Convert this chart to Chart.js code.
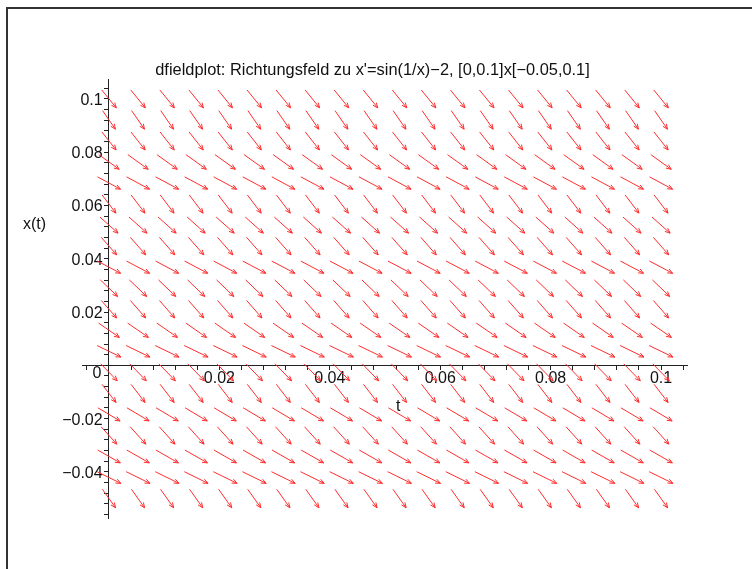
<!DOCTYPE html>
<html>
<head>
<meta charset="utf-8">
<script src="https://cdn.jsdelivr.net/npm/chart.js@4.4.1/dist/chart.umd.min.js"></script>
<style>
  html, body { margin: 0; padding: 0; background: #fff; overflow: hidden; }
  #wrap { position: relative; width: 752px; height: 569px; }
  #c { position: absolute; left: 0; top: 0; }
  #frame { position: absolute; left: 6px; top: 7px; width: 800px; height: 620px;
           border-top: 2px solid #333; border-left: 2px solid #333; pointer-events: none; }
</style>
</head>
<body>
<div id="wrap">
  <canvas id="c" width="752" height="569"></canvas>
  <div id="frame"></div>
</div>
<script>
// ---- data ----
const titleText = "dfieldplot: Richtungsfeld zu x'=sin(1/x)\u22122, [0,0.1]x[\u22120.05,0.1]";
const tGrid = [0, 0.00526, 0.01053, 0.01579, 0.02105, 0.02632, 0.03158, 0.03684, 0.04211, 0.04737,
               0.05263, 0.05789, 0.06316, 0.06842, 0.07368, 0.07895, 0.08421, 0.08947, 0.09474, 0.1];
const xGrid = [-0.05, -0.04211, -0.03421, -0.02632, -0.01842, -0.01053, -0.00263, 0.00526, 0.01316, 0.02105,
               0.02895, 0.03684, 0.04474, 0.05263, 0.06053, 0.06842, 0.07632, 0.08421, 0.09211, 0.1];
// slope x' for each row of xGrid
const rowSlopes = [-2.913, -1.018, -1.183, -2.296, -1.230, -2.683, -2.132, -1.002, -1.434, -2.368,
                   -1.988, -1.095, -2.354, -1.850, -2.727, -1.113, -1.489, -2.637, -2.990, -2.544];
const xTickValues = [0.02, 0.04, 0.06, 0.08, 0.1];
const xTickLabels = ['0.02', '0.04', '0.06', '0.08', '0.1'];
const yTickValues = [-0.04, -0.02, 0.02, 0.04, 0.06, 0.08, 0.1];
const yTickLabels = ['\u22120.04', '\u22120.02', '0.02', '0.04', '0.06', '0.08', '0.1'];
const tView = [0, 0.1];
const xView = [-0.05, 0.1];
const xAxisTitle = 't';
const yAxisTitle = 'x(t)';
const originLabel = '0';

// ---- build library structures ----
const points = [];
for (let i = 0; i < xGrid.length; i++) {
  for (let j = 0; j < tGrid.length; j++) {
    points.push({ x: tGrid[j], y: xGrid[i], m: rowSlopes[i] });
  }
}
function labelFor(vals, labs) {
  return function (v) {
    for (let k = 0; k < vals.length; k++) if (Math.abs(v - vals[k]) < 1e-7) return labs[k];
    return '';
  };
}
const FONT = "'Liberation Sans', Arial, Helvetica, sans-serif";
const TICK_SIZE = 16;
const TITLE_SIZE = 16.4;

const arrowPlugin = {
  id: 'arrows',
  afterDatasetsDraw(chart) {
    const ctx = chart.ctx;
    const xs = chart.scales.x, ys = chart.scales.y;
    const tR = tView[1] - tView[0], xR = xView[1] - xView[0];
    const L = 0.052;
    ctx.save();
    ctx.strokeStyle = 'rgb(255,45,45)';
    ctx.lineWidth = 1;
    chart.data.datasets[0].data.forEach(p => {
      let nx = 1 / tR, ny = p.m / xR;
      const len = Math.hypot(nx, ny);
      nx /= len; ny /= len;
      const dt = nx * L * tR, dx = ny * L * xR;
      const x0 = xs.getPixelForValue(p.x - dt / 2), y0 = ys.getPixelForValue(p.y - dx / 2);
      const x1 = xs.getPixelForValue(p.x + dt / 2), y1 = ys.getPixelForValue(p.y + dx / 2);
      const ang = Math.atan2(y1 - y0, x1 - x0);
      const h = 5.5, a = 0.4;
      ctx.beginPath();
      ctx.moveTo(x0, y0); ctx.lineTo(x1, y1);
      ctx.moveTo(x1 - h * Math.cos(ang - a), y1 - h * Math.sin(ang - a));
      ctx.lineTo(x1, y1);
      ctx.lineTo(x1 - h * Math.cos(ang + a), y1 - h * Math.sin(ang + a));
      ctx.stroke();
    });
    ctx.restore();
  },
  afterDraw(chart) {
    const ctx = chart.ctx;
    const xs = chart.scales.x, ys = chart.scales.y;
    const ox = xs.getPixelForValue(0), oy = ys.getPixelForValue(0);
    ctx.save();
    ctx.fillStyle = '#111';
    ctx.font = TICK_SIZE + 'px ' + FONT;
    ctx.textBaseline = 'middle';
    ctx.textAlign = 'center';
    ctx.fillText(originLabel, ox - 12, oy + 8);
    ctx.fillText(xAxisTitle, xs.getPixelForValue(0.0524), oy + 41);
    ctx.textAlign = 'left';
    ctx.fillText(yAxisTitle, chart.chartArea.left - 59, ys.getPixelForValue(0.0527));
    ctx.restore();
  }
};

const xMin = -0.00489, xMax = 0.1047, yMin = -0.0573, yMax = 0.1071;

new Chart(document.getElementById('c'), {
  type: 'scatter',
  data: { datasets: [{ data: points, pointRadius: 0, pointHoverRadius: 0, showLine: false }] },
  options: {
    responsive: false,
    animation: false,
    events: [],
    layout: { padding: { left: 58, right: 65, top: 60.3, bottom: 51 } },
    plugins: {
      legend: { display: false },
      tooltip: { enabled: false },
      title: { display: true, text: titleText, color: '#111', padding: { top: 0, bottom: 0 },
               font: { family: FONT, size: TITLE_SIZE, weight: 'normal', lineHeight: 1.2 } }
    },
    scales: {
      x: {
        type: 'linear', axis: 'x', position: { y: 0 }, min: xMin, max: xMax,
        grid: { drawOnChartArea: false, drawTicks: true, tickLength: 4, tickColor: '#222' },
        border: { display: true, color: '#222', width: 1 },
        ticks: { stepSize: 0.004, autoSkip: false, includeBounds: false, maxRotation: 0, minRotation: 0,
                 padding: 0, color: '#111', font: { family: FONT, size: TICK_SIZE },
                 callback: labelFor(xTickValues, xTickLabels) },
        afterFit(s) { s.height = 0; }
      },
      y: {
        type: 'linear', axis: 'y', position: { x: 0 }, min: yMin, max: yMax,
        grid: { drawOnChartArea: false, drawTicks: true, tickLength: 4, tickColor: '#222' },
        border: { display: true, color: '#222', width: 1 },
        ticks: { display: false, stepSize: 0.004, autoSkip: false, includeBounds: false },
        afterFit(s) { s.width = 0; }
      },
      yLab: {
        type: 'linear', axis: 'y', position: { x: -0.00115 }, min: yMin, max: yMax,
        grid: { display: false }, border: { display: false },
        ticks: { stepSize: 0.02, autoSkip: false, includeBounds: false, labelOffset: 1.5,
                 color: '#111', font: { family: FONT, size: TICK_SIZE },
                 callback: labelFor(yTickValues, yTickLabels) },
        afterFit(s) { s.width = 0; }
      },
      pad: {
        type: 'linear', axis: 'y', position: 'left', min: 0, max: 1,
        grid: { display: false }, border: { display: false }, ticks: { display: false },
        afterFit(s) { s.width = 24; }
      }
    }
  },
  plugins: [arrowPlugin]
});
</script>
</body>
</html>
